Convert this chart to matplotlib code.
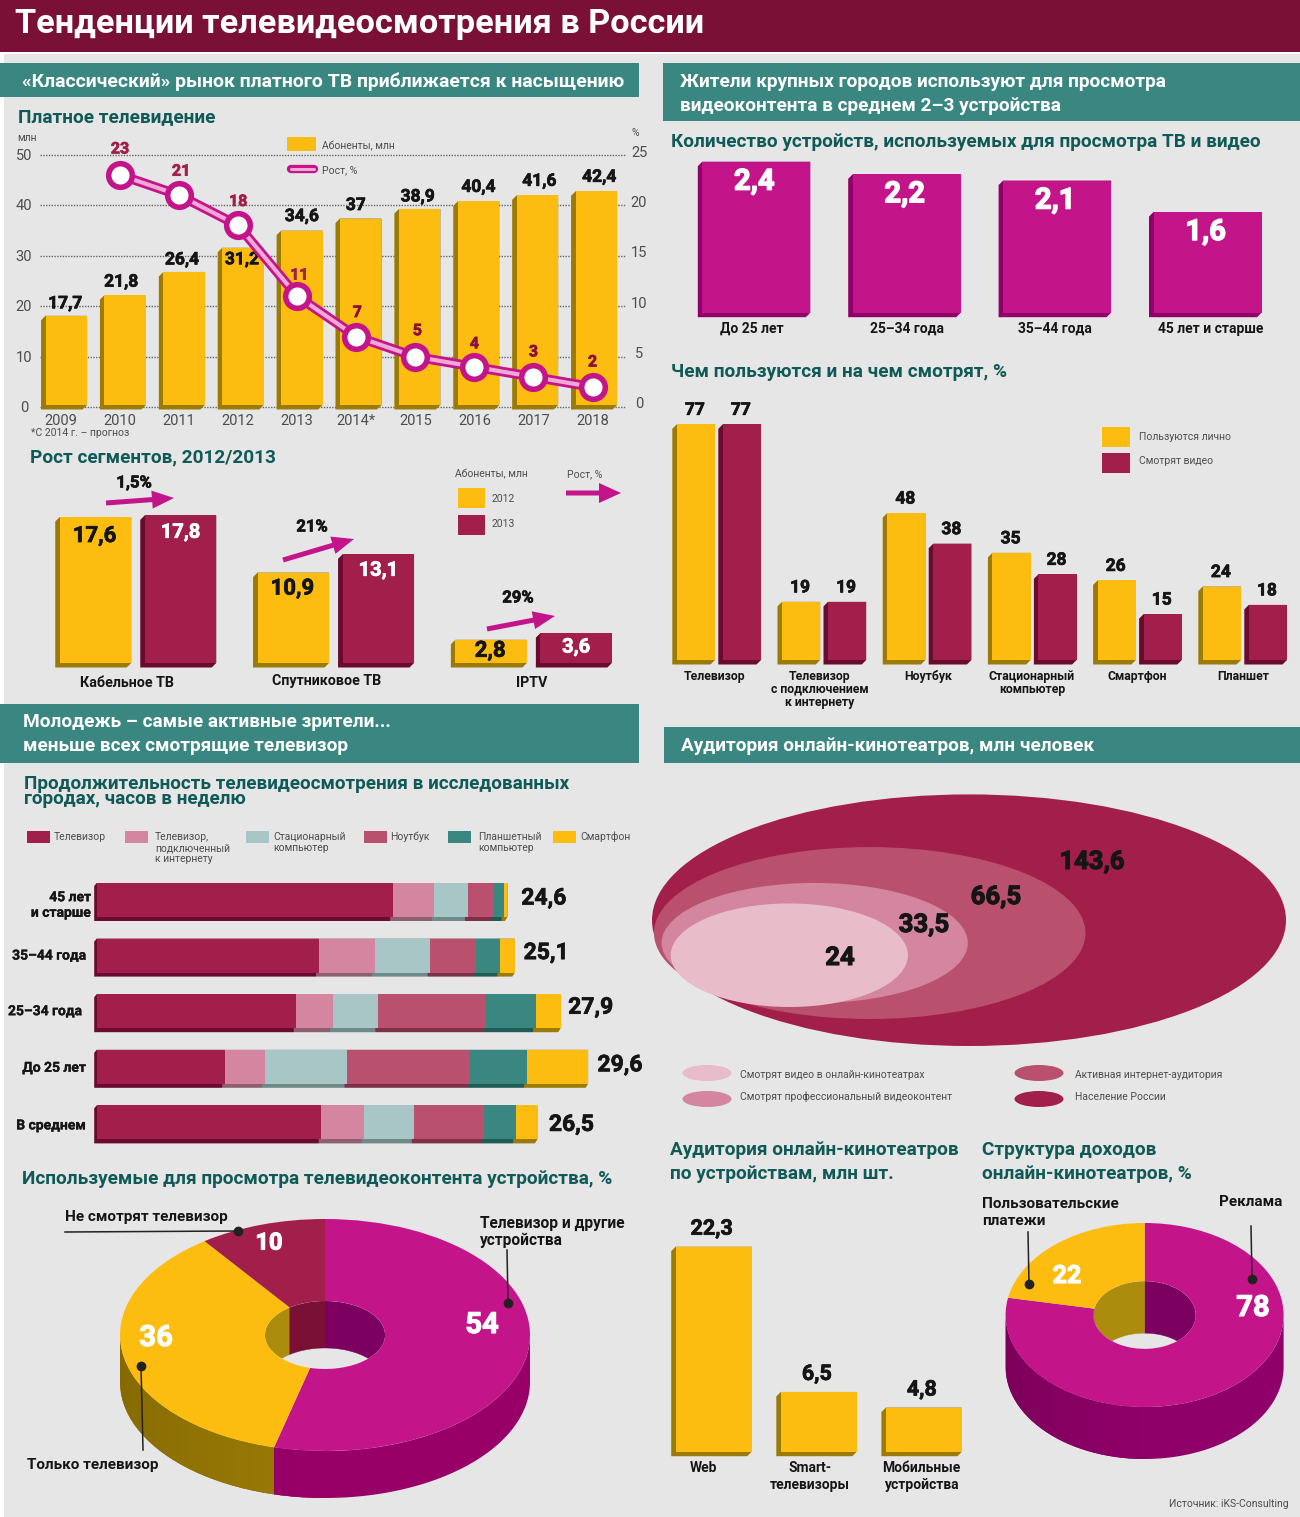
import numpy as np
import matplotlib
matplotlib.use('Agg')
import matplotlib.pyplot as plt
import matplotlib.font_manager as fm
import matplotlib.patheffects as pe
from matplotlib.colors import to_rgb
from matplotlib.patches import Ellipse, Polygon, Rectangle, FancyArrow

W, H = 1300, 1517

# --- data ---
years = ['2009', '2010', '2011', '2012', '2013', '2014*', '2015', '2016', '2017', '2018']
subs = [17.7, 21.8, 26.4, 31.2, 34.6, 37, 38.9, 40.4, 41.6, 42.4]
growth_years = [1, 2, 3, 4, 5, 6, 7, 8, 9]
growth = [23, 21, 18, 11, 7, 5, 4, 3, 2]

seg_names = ['Кабельное ТВ', 'Спутниковое ТВ', 'IPTV']
seg_2012 = [17.6, 10.9, 2.8]
seg_2013 = [17.8, 13.1, 3.6]
seg_growth = ['1,5%', '21%', '29%']

dev_ages = ['До 25 лет', '25–34 года', '35–44 года', '45 лет и старше']
dev_counts = [2.4, 2.2, 2.1, 1.6]

use_names = ['Телевизор', 'Телевизор\nс подключением\nк интернету', 'Ноутбук',
	'Стационарный\nкомпьютер', 'Смартфон', 'Планшет']
use_personal = [77, 19, 48, 35, 26, 24]
use_video = [77, 19, 38, 28, 15, 18]

hour_rows = ['45 лет\nи старше', '35–44 года', '25–34 года', 'До 25 лет', 'В среднем']
hour_totals = [24.6, 25.1, 27.9, 29.6, 26.5]
hours_tv = [17.8, 13.35, 12.0, 7.7, 13.5]
hours_smart_tv = [2.5, 3.37, 2.2, 2.4, 2.6]
hours_desktop = [2.0, 3.33, 2.7, 4.95, 3.0]
hours_laptop = [1.6, 2.77, 6.5, 7.4, 4.2]
hours_tablet = [0.6, 1.42, 3.0, 3.4, 1.9]
hours_phone = [0.2, 0.9, 1.5, 3.7, 1.3]
hour_legend = ['Телевизор', 'Телевизор,\nподключенный\nк интернету', 'Стационарный\nкомпьютер',
	'Ноутбук', 'Планшетный\nкомпьютер', 'Смартфон']

screen_share = [54, 36, 10]
income_share = [78, 22]

aud_values = ['143,6', '66,5', '33,5', '24']
aud_sizes = [143.6, 66.5, 33.5, 20.1]  # the inner ellipse is drawn smaller than its value
aud_legend = ['Смотрят видео в онлайн-кинотеатрах', 'Смотрят профессиональный видеоконтент',
	'Активная интернет-аудитория', 'Население России']

web_names = ['Web', 'Smart-\nтелевизоры', 'Мобильные\nустройства']
web_values = [22.3, 6.5, 4.8]

# --- colours ---
BG = '#e6e6e6'
MAROON = '#7b1036'
TEAL = '#3a8781'
HEAD = '#0f5a56'
YEL, YEL_D = '#fdbd10', '#9b7b05'
CRIM, CRIM_D = '#a21f4b', '#6a0a2e'
MAG, MAG_D = '#c4148a', '#8f0068'
PINK, PINK_D = '#d4859f', '#8e5f70'
LTEAL, LTEAL_D = '#a7c6c5', '#6d8a89'
ROSE, ROSE_D = '#b9516e', '#7c3049'
TEAL_D = '#1f5b57'
LPINK = '#e8bcc8'
GREY = '#4d4d4d'
INK = '#151515'
HEAD_SIZE = 13.7

names = {f.name for f in fm.fontManager.ttflist}
FONT = 'Liberation Sans Narrow' if 'Liberation Sans Narrow' in names else 'Roboto'
plt.rcParams['font.family'] = [FONT, 'DejaVu Sans']

fig = plt.figure(figsize=(W / 100, H / 100), dpi=100, facecolor='white')


def panel(xa, pxa, xb, pxb, ya, pya, yb, pyb):
	# full-figure transparent axes, scaled so that the two values land on the two pixels
	ax = fig.add_axes([0, 0, 1, 1], facecolor='none')
	ax.axis('off')
	sx = (pxb - pxa) / (xb - xa)
	sy = (pyb - pya) / (yb - ya)
	ax.set_xlim(xa - pxa / sx, xa + (W - pxa) / sx)
	ax.set_ylim(ya + (H - pya) / sy, ya - pya / sy)
	return ax


def scale(ax):
	x0, x1 = ax.get_xlim()
	y0, y1 = ax.get_ylim()
	return abs(x1 - x0) / W, abs(y1 - y0) / H


def extrude(ax, x0, x1, base, top, dx, dy, color):
	ux, uy = scale(ax)
	ddx, ddy = dx * ux, dy * uy
	pts = [(x0, top), (x0 - ddx, top - ddy), (x0 - ddx, base - ddy), (x1 - ddx, base - ddy), (x1, base), (x1, top)]
	ax.add_patch(Polygon(pts, closed=True, fc=color, ec='none', zorder=2))


def bars3d(ax, xs, vals, width, color, dark, dx=4.5, dy=4.5):
	for x, v in zip(xs, vals):
		extrude(ax, x - width / 2, x + width / 2, 0, v, dx, dy, dark)
	ax.bar(xs, vals, width, color=color, linewidth=0, zorder=3)


def lab(ax, x, y, s, dx=0, dy=0, size=13, color=INK, weight='bold', ha='center', va='center', stroke=0.5):
	# text at a data point, moved by dx, dy pixels
	t = ax.annotate(s, (x, y), xytext=(dx, -dy), textcoords='offset pixels', fontsize=size, color=color,
		fontweight=weight, ha=ha, va=va, zorder=8, annotation_clip=False)
	if stroke:
		t.set_path_effects([pe.withStroke(linewidth=stroke, foreground=color)])
	return t


def comma(v):
	return str(v).replace('.', ',')


def shade(color, th):
	# the left of the outer wall is a little darker
	f = 1 - 0.16 * max(0, (th - 180) / 90)
	return tuple(c * f for c in to_rgb(color))


def donut(cx, cy, rx, ry, depth, hole, values, colors, sides, walls):
	ax = panel(0, cx, 1, cx + rx, 0, cy, 1, cy - ry)
	xlim, ylim = ax.get_xlim(), ax.get_ylim()
	d = depth / ry
	edges = np.cumsum([0] + values) / sum(values) * 360
	clip = Ellipse((0, 0), 2 * hole, 2 * hole, transform=ax.transData)
	for a0, a1, side, wall in zip(edges[:-1], edges[1:], sides, walls):
		lo, hi = max(a0, 90), min(a1, 270)
		if hi > lo:
			# whole wall first so its outline stays smooth, then the darker strips
			th = np.radians(np.linspace(lo, hi, 120))
			pts = np.r_[np.c_[np.sin(th), np.cos(th)], np.c_[np.sin(th[::-1]), np.cos(th[::-1]) - d]]
			wall_poly = Polygon(pts, closed=True, fc=side, ec='none', zorder=1)
			ax.add_patch(wall_poly)
			for c0 in np.arange(max(lo, 180), hi, 3.0):
				s = np.radians(np.linspace(c0, min(c0 + 3.5, hi), 6))
				p2 = np.r_[np.c_[np.sin(s), np.cos(s) + 0.02], np.c_[np.sin(s[::-1]), np.cos(s[::-1]) - d - 0.02]]
				strip = Polygon(p2, closed=True, fc=shade(side, c0 + 1.5), ec='none', zorder=1)
				ax.add_patch(strip)
				strip.set_clip_path(wall_poly)
		for lo, hi in ((max(a0, 0), min(a1, 90)), (max(a0, 270), min(a1, 360))):
			if hi > lo:
				th = np.radians(np.linspace(lo, hi, 60))
				x, y = hole * np.sin(th), hole * np.cos(th)
				pts = np.r_[np.c_[x, y], np.c_[x[::-1], y[::-1] - d]]
				p = Polygon(pts, closed=True, fc=wall, ec=wall, lw=0.3, zorder=1)
				ax.add_patch(p)
				p.set_clip_path(clip)
	wedges, texts = ax.pie(values, colors=colors, startangle=90, counterclock=False, radius=1,
		wedgeprops={'width': 1 - hole, 'linewidth': 0})
	for t in texts:
		t.remove()
	ax.set_aspect('auto')
	ax.set_xlim(xlim)
	ax.set_ylim(ylim)
	ax.axis('off')
	return ax


# --- background layer in pixel coordinates ---
base = panel(0, 0, W, W, 0, 0, H, H)
base.add_patch(Rectangle((4, 54), W, H, fc=BG, ec='none'))
base.add_patch(Rectangle((0, 0), W, 52, fc=MAROON, ec='none'))
base.add_patch(Rectangle((0, 63), 639, 34, fc=TEAL, ec='none'))
base.add_patch(Rectangle((663, 63), 637, 58, fc=TEAL, ec='none'))
base.add_patch(Rectangle((0, 704), 639, 59, fc=TEAL, ec='none'))
base.add_patch(Rectangle((664, 727), 636, 36, fc=TEAL, ec='none'))


def txt(x, y, s, size=HEAD_SIZE, color=HEAD, weight='bold', ha='left', ax=base):
	return ax.text(x, y, s, fontsize=size, color=color, fontweight=weight, ha=ha, va='center', zorder=9)


txt(15, 24, 'Тенденции телевидеосмотрения в России', 24.7, 'white')
txt(22, 82, '«Классический» рынок платного ТВ приближается к насыщению', HEAD_SIZE + 0.25, 'white')
txt(680, 82, 'Жители крупных городов используют для просмотра', HEAD_SIZE, 'white')
txt(680, 106, 'видеоконтента в среднем 2–3 устройства', HEAD_SIZE, 'white')
txt(23, 722, 'Молодежь – самые активные зрители...', HEAD_SIZE, 'white')
txt(23, 746, 'меньше всех смотрящие телевизор', HEAD_SIZE, 'white')
txt(681, 746, 'Аудитория онлайн-кинотеатров, млн человек', HEAD_SIZE, 'white')

txt(18, 117, 'Платное телевидение')
txt(30, 457, 'Рост сегментов, 2012/2013')
txt(671, 142, 'Количество устройств, используемых для просмотра ТВ и видео', HEAD_SIZE - 0.05)
txt(671, 372, 'Чем пользуются и на чем смотрят, %')
txt(24, 784, 'Продолжительность телевидеосмотрения в исследованных', HEAD_SIZE - 0.1)
txt(24, 799, 'городах, часов в неделю', HEAD_SIZE - 0.1)
txt(22, 1179, 'Используемые для просмотра телевидеоконтента устройства, %')
txt(670, 1150, 'Аудитория онлайн-кинотеатров')
txt(670, 1174, 'по устройствам, млн шт.')
txt(982, 1150, 'Структура доходов')
txt(982, 1174, 'онлайн-кинотеатров, %')

# --- pay TV ---
grid = panel(0, 0, W, W, 0, 407, 50, 155)
for v in range(0, 51, 10):
	grid.hlines(v, 40, 626, color='#666666', lw=1, linestyles=(0, (1, 1)), zorder=1)
	lab(grid, 24, v, str(v), dy=1, size=10.5, color=GREY, weight='normal', stroke=0)
grid_r = panel(0, 0, W, W, 0, 403, 25, 152)
for v in range(0, 26, 5):
	lab(grid_r, 639, v, str(v), dy=1, size=10.5, color=GREY, weight='normal', stroke=0)
txt(17, 138, 'млн', 7.5, GREY, 'normal')
txt(632, 133, '%', 7.5, GREY, 'normal')

ax_tv = panel(0, 66.3, 9, 596.3, 0, 405, 50, 153)
idx = np.arange(len(years))
bars3d(ax_tv, idx, subs, 41.5 / 58.9, YEL, YEL_D)
sub_offs = [(-1, -12), (-4, -13), (-2, -12), (-1, 12), (0, -14), (-5, -13), (-2, -12), (0, -14), (2, -14), (3, -14)]
for i, v in enumerate(subs):
	lab(ax_tv, i, v, comma(v), sub_offs[i][0], sub_offs[i][1], size=12.5)

ax_gr = panel(1, 120, 9, 592.5, 23, 175, 2, 387)
ax_gr.plot(growth_years, growth, color=MAG, lw=7, zorder=4, solid_joinstyle='round')
ax_gr.plot(growth_years, growth, color='#f0a8d4', lw=3, zorder=5, solid_joinstyle='round')
ax_gr.plot(growth_years, growth, 'o', ms=17, mfc='white', mec=MAG, mew=4, zorder=6)
gr_offs = [(0, -26), (2, -24), (0, -24), (2, -21), (1, -24), (2, -26), (0, -23), (0, -25), (0, -25)]
for g, v, o in zip(growth_years, growth, gr_offs):
	lab(ax_gr, g, v, str(v), o[0], o[1], size=11.5, color=CRIM if v > 7 else '#8a1238')
for i, y in enumerate(years):
	lab(ax_gr, i, 23, y, 0, 246, size=10.5, color=GREY, weight='normal', stroke=0)

txt(31, 433, '*С 2014 г. – прогноз', 7.5, GREY, 'normal')
base.add_patch(Rectangle((287, 137), 29, 14, fc=YEL, ec='none'))
txt(322, 146, 'Абоненты, млн', 7.5, GREY, 'normal')
base.plot([291, 314], [169, 169], color=MAG, lw=6, solid_capstyle='round', zorder=5)
base.plot([291, 314], [169, 169], color='#f0a8d4', lw=2.2, solid_capstyle='round', zorder=6)
txt(322, 170, 'Рост, %', 7.5, GREY, 'normal')

# --- segment growth ---
ax_seg = panel(0, 95.5, 1, 293.3, 0, 663, 17.6, 517)
seg_x = np.arange(len(seg_names))
bar_w = 71.5 / 197.8
off = 42.5 / 197.8
bars3d(ax_seg, seg_x, seg_2012, bar_w, YEL, YEL_D)
bars3d(ax_seg, seg_x + 2 * off, seg_2013, bar_w, CRIM, CRIM_D)
label_dy_12 = [19, 16, 11]
label_dy_13 = [17, 16, 14]
for i in seg_x:
	lab(ax_seg, i, seg_2012[i], comma(seg_2012[i]), -1, label_dy_12[i], size=16)
	lab(ax_seg, i + 2 * off, seg_2013[i], comma(seg_2013[i]), 0, label_dy_13[i], size=14.5, color='white')
for x, name, y in zip([127, 327, 532], seg_names, [683, 681, 683]):
	txt(x, y, name, 10.3, INK, ha='center')
for x0, y0, x1, y1, name, lx, ly in [(106, 503, 174, 498, seg_growth[0], 134, 483),
	(283, 560, 354, 539, seg_growth[1], 312, 527), (487, 629, 555, 616, seg_growth[2], 518, 598)]:
	base.add_patch(FancyArrow(x0, y0, x1 - x0, y1 - y0, width=5, head_width=18, head_length=22,
		length_includes_head=True, fc=MAG, ec='none', zorder=6))
	lab(base, lx, ly, name, size=12)
base.add_patch(FancyArrow(566, 493, 55, 0, width=5, head_width=20, head_length=22,
	length_includes_head=True, fc=MAG, ec='none', zorder=6))
txt(455, 474, 'Абоненты, млн', 7.5, GREY, 'normal')
txt(567, 474, 'Рост, %', 7.5, GREY, 'normal')
base.add_patch(Rectangle((458, 488), 27, 20, fc=YEL, ec='none'))
base.add_patch(Rectangle((458, 515), 27, 20, fc=CRIM, ec='none'))
txt(492, 499, '2012', 7.5, GREY, 'normal')
txt(492, 524, '2013', 7.5, GREY, 'normal')

# --- devices by age ---
ax_dev = panel(0, 756.3, 1, 906.7, 0, 312.7, 2.4, 161.7)
dev_x = np.arange(len(dev_ages))
bars3d(ax_dev, dev_x, dev_counts, 108 / 150.4, MAG, MAG_D)
for i, v in enumerate(dev_counts):
	lab(ax_dev, i, v, comma(v), -2, 20, size=21, color='white', stroke=1.0)
for x, name in zip([752, 907, 1055, 1211], dev_ages):
	txt(x, 329, name, 10, INK, ha='center')

# --- what they use ---
ax_use = panel(0, 718.9, 1, 824.1, 0, 660, 77, 424.3)
use_x = np.arange(len(use_names))
use_w = 38.2 / 105.2
use_off = 23 / 105.2
bars3d(ax_use, use_x - use_off, use_personal, use_w, YEL, YEL_D)
bars3d(ax_use, use_x + use_off, use_video, use_w, CRIM, CRIM_D)
for i in use_x:
	lab(ax_use, i - use_off, use_personal[i], str(use_personal[i]), -1, -14, size=12.5)
	lab(ax_use, i + use_off, use_video[i], str(use_video[i]), -1, -14, size=12.5)
for x, name in zip([715, 820, 928, 1032, 1137, 1243], use_names):
	for k, line in enumerate(name.split('\n')):
		txt(x, 676 + 13 * k, line, 8.8, INK, ha='center')
base.add_patch(Rectangle((1102, 427), 28, 20, fc=YEL, ec='none'))
base.add_patch(Rectangle((1102, 453), 28, 20, fc=CRIM, ec='none'))
txt(1139, 437, 'Пользуются лично', 7.5, GREY, 'normal')
txt(1139, 461, 'Смотрят видео', 7.5, GREY, 'normal')

# --- viewing hours ---
ax_h = panel(0, 96.7, 1, 113.33, 0, 900, 1, 955.6)
hour_y = np.arange(len(hour_rows))
hour_series = [hours_tv, hours_smart_tv, hours_desktop, hours_laptop, hours_tablet, hours_phone]
hour_cols = [CRIM, PINK, LTEAL, ROSE, TEAL, YEL]
hour_dark = [CRIM_D, PINK_D, LTEAL_D, ROSE_D, TEAL_D, YEL_D]
bar_h = 34 / 55.6
left = np.zeros(len(hour_rows))
for vals, c, dk in zip(hour_series, hour_cols, hour_dark):
	vals = np.array(vals)
	ux, uy = scale(ax_h)
	for y, l, v in zip(hour_y, left, vals):
		# y axis points down here, so the strip goes under the face
		pts = [(l, y - bar_h / 2), (l - 2.5 * ux, y - bar_h / 2 + 3 * uy), (l - 2.5 * ux, y + bar_h / 2 + 4 * uy),
			(l + v - 2.5 * ux, y + bar_h / 2 + 4 * uy), (l + v, y + bar_h / 2), (l + v, y - bar_h / 2)]
		ax_h.add_patch(Polygon(pts, closed=True, fc=dk, ec='none', zorder=2))
	ax_h.barh(hour_y, vals, bar_h, left=left, color=c, linewidth=0, zorder=3)
	left += vals
row_right = [91, 86, 82, 86, 86]
row_dy = [5, 0, 0, 1, 3]
for i, name in enumerate(hour_rows):
	lines = name.split('\n')
	for k, line in enumerate(lines):
		yy = i + (k - (len(lines) - 1) / 2) * 15.5 / 55.6
		lab(ax_h, 0, yy, line, row_right[i] - 96.7, row_dy[i], size=10, ha='right', stroke=0.2)
total_dx = [38, 32, 30, 31, 34]
total_dy = [-2, -3, -4, -2, 2]
for i, v in enumerate(hour_totals):
	lab(ax_h, v, i, comma(v), total_dx[i], total_dy[i], size=16.5)

for x, col, name, tx in zip([27, 125, 246, 364, 448, 553], hour_cols, hour_legend, [54, 155, 273, 390, 478, 580]):
	base.add_patch(Rectangle((x, 831), 23, 12, fc=col, ec='none'))
	for k, line in enumerate(name.split('\n')):
		txt(tx, 837 + 11 * k, line, 7.5, GREY, 'normal')

# --- donut: screens ---
donut(325, 1335, 205, 116, 47, 0.293, screen_share, [MAG, YEL, CRIM], ['#980068', YEL_D, CRIM_D], ['#7b0060', '#ac8c0c', '#7a1035'])

# --- audience ellipses ---
ax_e = panel(0, 0, W, W, 0, 0, H, H)
aud_cols = [CRIM, ROSE, PINK, LPINK]
aud_left = [652, 654, 661.6, 670.7]
aud_bottom = [1046, 1019, 1003, 1007]
aud_aspect = [2.52, 2.51, 2.55, 2.29]
for s, c, l, b, a in zip(aud_sizes, aud_cols, aud_left, aud_bottom, aud_aspect):
	rx = 317 * np.sqrt(s / aud_sizes[0])
	ry = rx / a
	ax_e.add_patch(Ellipse((l + rx, b - ry), 2 * rx, 2 * ry, fc=c, ec='none', zorder=2))
for (x, y), s in zip([(1092, 862), (996, 897), (924, 925), (840, 958)], aud_values):
	lab(ax_e, x, y, s, size=18.5, stroke=0.8)
for (x, y), c, s, tx in zip([(707, 1073), (707, 1099), (1039, 1073), (1039, 1099)], [LPINK, PINK, ROSE, CRIM],
	aud_legend, [740, 740, 1075, 1075]):
	ax_e.add_patch(Ellipse((x, y), 49, 16, fc=c, ec='none', zorder=2))
	txt(tx, 1075 if y < 1090 else 1097, s, 7.5, GREY, 'normal', ax=ax_e)

# --- web bars ---
ax_w = panel(0, 713.7, 1, 818.8, 0, 1451.7, 22.3, 1246.7)
web_x = np.arange(len(web_names))
bars3d(ax_w, web_x, web_values, 76 / 105.1, YEL, YEL_D)
for i, v in enumerate(web_values):
	lab(ax_w, i, v, comma(v), -2, -18, size=15.5)
for x, name in zip([704, 810, 921], web_names):
	for k, line in enumerate(name.split('\n')):
		txt(x, 1468 + 17 * k, line, 10, INK, ha='center')

# --- donut: income ---
donut(1144.6, 1315, 139, 92, 52, 0.368, income_share, [MAG, YEL], ['#8f0068', YEL_D], ['#7b0060', '#ac8c0c'])

# --- callouts on top ---
top = panel(0, 0, W, W, 0, 0, H, H)


def callout(xs, ys):
	top.plot(xs, ys, color='#222222', lw=1.1, zorder=7)
	top.plot(xs[-1], ys[-1], 'o', color='#222222', ms=6, zorder=7)


callout([65, 238], [1232, 1231])
callout([507, 508], [1250, 1303])
callout([143, 141], [1450, 1366])
callout([1028, 1029], [1232, 1284])
callout([1251, 1252], [1226, 1279])
txt(65, 1217, 'Не смотрят телевизор', 11, INK, ax=top)
txt(480, 1223, 'Телевизор и другие', 11.2, INK, ax=top)
txt(480, 1240, 'устройства', 11.2, INK, ax=top)
txt(27, 1465, 'Только телевизор', 11, INK, ax=top)
txt(982, 1204, 'Пользовательские', 11, INK, ax=top)
txt(982, 1221, 'платежи', 11, INK, ax=top)
txt(1282, 1202, 'Реклама', 11, INK, ha='right', ax=top)
for (x, y), s, size in zip([(482, 1325), (156, 1338), (269, 1243), (1067, 1276), (1253, 1308)],
	[screen_share[0], screen_share[1], screen_share[2], income_share[1], income_share[0]],
	[21, 21, 17, 18, 21]):
	lab(top, x, y, str(s), size=size, color='white', stroke=0.8)
txt(1289, 1504, 'Источник: iKS-Consulting', 7.5, GREY, 'normal', ha='right', ax=top)

fig.savefig('out.png', dpi=100, facecolor='white')
